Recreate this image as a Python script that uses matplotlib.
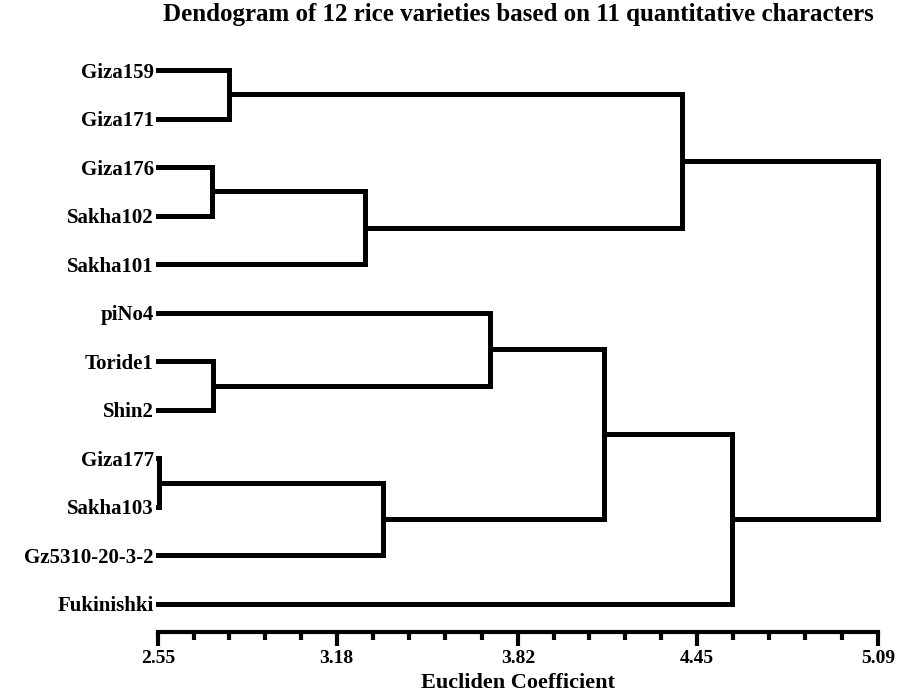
import matplotlib
matplotlib.use("Agg")
import matplotlib.pyplot as plt
import numpy as np

labels = ["Giza159", "Giza171", "Giza176", "Sakha102", "Sakha101", "piNo4",
          "Toride1", "Shin2", "Giza177", "Sakha103", "Gz5310-20-3-2", "Fukinishki"]

# linkage: (left child, right child, height); new nodes numbered from 12
merge_left = [0, 2, 13, 12, 6, 5, 8, 18, 17, 20, 15]
merge_right = [1, 3, 4, 14, 7, 16, 9, 10, 19, 11, 21]
merge_height = [2.80, 2.74, 3.28, 4.40, 2.745, 3.72, 2.555, 3.345, 4.125, 4.575, 5.09]

major_ticks = [2.55, 3.18, 3.82, 4.45, 5.09]
title = "Dendogram of 12 rice varieties based on 11 quantitative characters"
xlabel = "Eucliden Coefficient"

plt.rcParams["font.family"] = ["Liberation Serif", "DejaVu Serif"]

fig = plt.figure(figsize=(9.02, 6.98), dpi=100)
ax = fig.add_axes([158 / 902, 1 - 632 / 698, (878 - 158) / 902, (632 - 41) / 698])

n = len(labels)
xmin = major_ticks[0]
pos = {i: (float(i), xmin) for i in range(n)}  # node -> (y, x)
lw = 3.6
for k, (a, b, h) in enumerate(zip(merge_left, merge_right, merge_height)):
    ya, xa = pos[a]
    yb, xb = pos[b]
    ax.plot([xa, h], [ya, ya], color="black", lw=lw, solid_capstyle="projecting", clip_on=False)
    ax.plot([xb, h], [yb, yb], color="black", lw=lw, solid_capstyle="projecting", clip_on=False)
    ax.plot([h, h], [ya, yb], color="black", lw=lw, solid_capstyle="projecting", clip_on=False)
    pos[n + k] = ((ya + yb) / 2, h)

ax.set_xlim(major_ticks[0], major_ticks[-1])
ax.set_ylim(11.58, -0.6)

ax.set_yticks(range(n))
ax.set_yticklabels(labels, fontsize=15, fontweight="bold")
ax.tick_params(axis="y", length=0, pad=3)

ax.set_xticks(major_ticks)
ax.set_xticklabels([f"{t:.2f}" for t in major_ticks], fontsize=14, fontweight="bold")
minor = []
for a, b in zip(major_ticks[:-1], major_ticks[1:]):
    minor.extend(np.linspace(a, b, 6)[1:-1])
ax.set_xticks(minor, minor=True)
ax.tick_params(axis="x", which="major", length=10, width=3, direction="out", pad=3)
ax.tick_params(axis="x", which="minor", length=6, width=3, direction="out")

for s in ["top", "right", "left"]:
    ax.spines[s].set_visible(False)
ax.spines["bottom"].set_linewidth(3)
ax.spines["bottom"].set_capstyle("projecting")

ax.set_xlabel(xlabel, fontsize=16, fontweight="bold", labelpad=4)
fig.text(518 / 902, 1 - 15 / 698, title, ha="center", va="center",
         fontsize=18, fontweight="bold")

fig.savefig("out.png", dpi=100)
